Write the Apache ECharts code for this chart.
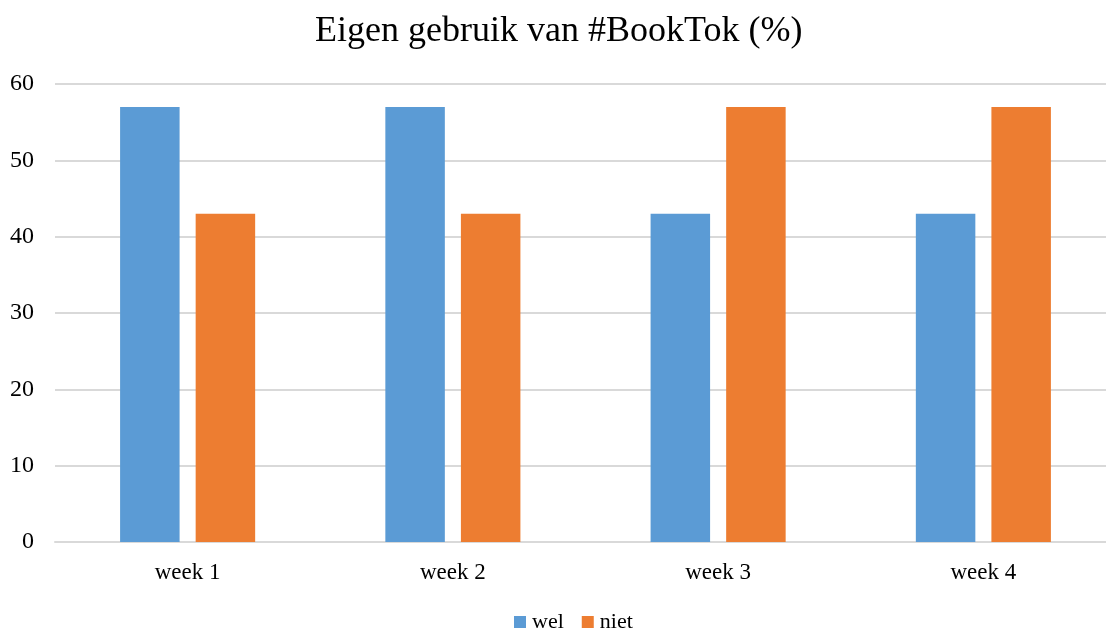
<!DOCTYPE html>
<html>
<head>
<meta charset="utf-8">
<script src="https://cdn.jsdelivr.net/npm/echarts@6/dist/echarts.min.js"></script>
<style>
html, body { margin: 0; padding: 0; background: #fff; }
#main { width: 1106px; height: 633px; }
</style>
</head>
<body>
<div id="main"></div>
<script>
var weeks = ['week 1', 'week 2', 'week 3', 'week 4'];
var wel = [57, 57, 43, 43];
var niet = [43, 43, 57, 57];

var font = '"Liberation Serif", "Times New Roman", serif';
var myChart = echarts.init(document.getElementById('main'));
var option = {
	animation: false,
	title: {
		text: 'Eigen gebruik van #BookTok (%)',
		left: 310,
		top: 9,
		textStyle: { fontFamily: font, fontSize: 36, fontWeight: 'normal', color: '#000' }
	},
	legend: {
		top: 606,
		left: 509,
		itemWidth: 12,
		itemHeight: 12,
		itemGap: 18,
		icon: 'rect',
		textStyle: { fontFamily: font, fontSize: 22, color: '#000', padding: [0, 0, 0, 1] },
		data: ['wel', 'niet']
	},
	// plot area runs past the right edge in the original (cropped)
	grid: { left: 55, width: 1061, top: 84, bottom: 91, outerBoundsMode: 'none' },
	xAxis: {
		type: 'category',
		data: weeks,
		axisTick: { show: false },
		axisLine: { lineStyle: { color: '#d9d9d9', width: 2 } },
		axisLabel: { fontFamily: font, fontSize: 23, color: '#000', margin: 19 }
	},
	yAxis: {
		type: 'value',
		min: 0,
		max: 60,
		interval: 10,
		axisLine: { show: false },
		axisTick: { show: false },
		splitLine: { lineStyle: { color: '#d9d9d9', width: 2 } },
		axisLabel: { fontFamily: font, fontSize: 24, color: '#000', margin: 21, padding: [3, 0, 0, 0] }
	},
	series: [{
		name: 'wel',
		type: 'bar',
		data: wel,
		barWidth: 59.5,
		barGap: '27%',
		itemStyle: { color: '#5b9bd5' }
	}, {
		name: 'niet',
		type: 'bar',
		data: niet,
		barWidth: 59.5,
		barGap: '27%',
		itemStyle: { color: '#ed7d31' }
	}]
};
myChart.setOption(option);
</script>
</body>
</html>
